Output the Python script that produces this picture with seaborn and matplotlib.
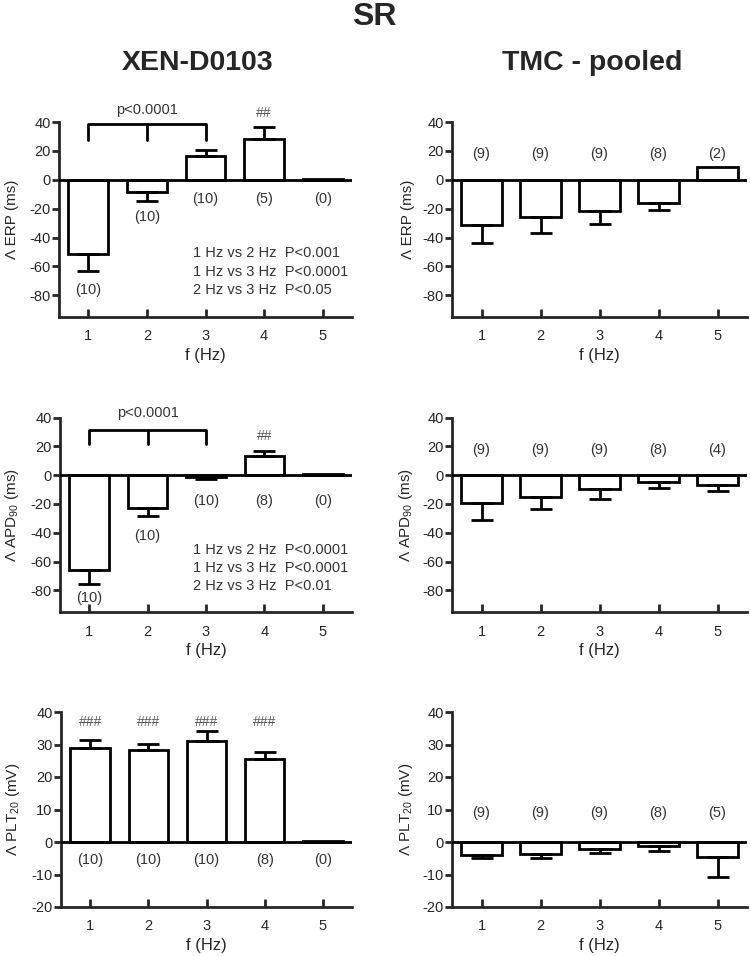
import matplotlib
matplotlib.use("Agg")
import matplotlib.pyplot as plt
import pandas as pd
import seaborn as sns

sns.set_style("ticks")
plt.rcParams["font.family"] = ["Liberation Sans", "DejaVu Sans"]
plt.rcParams["mathtext.fontset"] = "custom"
plt.rcParams["mathtext.rm"] = "Liberation Sans"
plt.rcParams["axes.unicode_minus"] = False

# data
freqs = ["1", "2", "3", "4", "5"]

xen_erp = [-51.5, -8.5, 16.5, 28.0, 0.5]
xen_erp_err = [11.7, 6.3, 4.2, 8.7, 0.0]
xen_erp_n = [10, 10, 10, 5, 0]

tmc_erp = [-31.0, -26.0, -21.5, -16.0, 9.0]
tmc_erp_err = [13.0, 11.0, 9.0, 5.0, 0.0]
tmc_erp_n = [9, 9, 9, 8, 2]

xen_apd = [-66.0, -23.0, -1.0, 13.5, 0.5]
xen_apd_err = [9.5, 5.2, 2.0, 3.0, 0.0]
xen_apd_n = [10, 10, 10, 8, 0]

tmc_apd = [-19.5, -15.0, -9.5, -5.0, -7.0]
tmc_apd_err = [11.5, 8.5, 7.0, 3.7, 4.0]
tmc_apd_n = [9, 9, 9, 8, 4]

xen_plt = [29.0, 28.3, 31.1, 25.5, 0.3]
xen_plt_err = [2.3, 1.9, 3.0, 2.1, 0.0]
xen_plt_n = [10, 10, 10, 8, 0]

tmc_plt = [-3.9, -3.8, -2.3, -1.3, -4.6]
tmc_plt_err = [1.0, 1.2, 1.0, 1.6, 6.2]
tmc_plt_n = [9, 9, 9, 8, 5]

erp_stats = ["1 Hz vs 2 Hz  P<0.001", "1 Hz vs 3 Hz  P<0.0001", "2 Hz vs 3 Hz  P<0.05"]
apd_stats = ["1 Hz vs 2 Hz  P<0.0001", "1 Hz vs 3 Hz  P<0.0001", "2 Hz vs 3 Hz  P<0.01"]

TXT = "#333333"
W, H = 750, 956

fig = plt.figure(figsize=(7.5, 9.56), dpi=100)


def make_ax(left, right, top, bottom):
    return fig.add_axes([left / W, 1 - bottom / H, (right - left) / W, (bottom - top) / H])


def bars(ax, vals, errs, ylim, yticks, ylabel, label_xy):
    df = pd.DataFrame({"f": freqs, "v": vals})
    sns.barplot(data=df, x="f", y="v", order=freqs, color="white", saturation=1,
                edgecolor="black", linewidth=2, width=0.68, errorbar=None, ax=ax)
    lo = [e if v < 0 else 0 for v, e in zip(vals, errs)]
    hi = [e if v >= 0 else 0 for v, e in zip(vals, errs)]
    keep = [i for i, e in enumerate(errs) if e > 0]
    ax.errorbar([i for i in keep], [vals[i] for i in keep],
                yerr=[[lo[i] for i in keep], [hi[i] for i in keep]],
                fmt="none", ecolor="black", elinewidth=2, capsize=8, capthick=2, zorder=1)
    ax.axhline(0, color="black", lw=2, zorder=3)
    ax.set_xlim(-0.5, 4.5)
    ax.set_ylim(*ylim)
    ax.set_yticks(yticks)
    sns.despine(ax=ax)
    for s in ["left", "bottom"]:
        ax.spines[s].set_linewidth(2)
    ax.tick_params(axis="y", direction="out", length=5, width=2, pad=1, labelsize=10.5)
    ax.tick_params(axis="x", direction="in", length=6, width=2, pad=9, labelsize=10.5)
    ax.set_xlabel("f (Hz)", fontsize=12, labelpad=3)
    ax.set_ylabel(ylabel, fontsize=11)
    ax.yaxis.set_label_coords(*label_xy)


def n_labels(ax, ns, ys):
    for i, (n, y) in enumerate(zip(ns, ys)):
        ax.text(i, y, f"({n})", ha="center", va="center", fontsize=10.5, color=TXT)


def bracket(ax, y_top, y_leg, y_txt):
    ax.plot([0, 0, 2, 2], [y_leg, y_top, y_top, y_leg], color="black", lw=2, clip_on=False)
    ax.plot([1, 1], [y_top, y_leg], color="black", lw=2, clip_on=False)
    ax.text(1, y_txt, "p<0.0001", ha="center", va="center", fontsize=10.5, color=TXT)


def stats(ax, lines, ys):
    for t, y in zip(lines, ys):
        ax.text(1.78, y, t, ha="left", va="center", fontsize=10.5, color=TXT)


ms_ticks = [-80, -60, -40, -20, 0, 20, 40]
mv_ticks = [-20, -10, 0, 10, 20, 30, 40]

# row 1: ERP
ax = make_ax(59, 352, 122, 317)
bars(ax, xen_erp, xen_erp_err, (-95, 40), ms_ticks, "Λ ERP (ms)", (-0.135, 0.5))
n_labels(ax, xen_erp_n, [-76, -26, -13, -13, -13])
bracket(ax, 38.6, 27.6, 48)
ax.text(3, 46, "##", ha="center", va="center", fontsize=10, color="#555555")
stats(ax, erp_stats, [-51, -64, -76.5])

ax = make_ax(452, 747, 122, 317)
bars(ax, tmc_erp, tmc_erp_err, (-95, 40), ms_ticks, "Λ ERP (ms)", (-0.125, 0.5))
n_labels(ax, tmc_erp_n, [17.7] * 5)

# row 2: APD90
ax = make_ax(60, 352, 417.5, 612)
bars(ax, xen_apd, xen_apd_err, (-95, 40), ms_ticks, r"Λ APD$_\mathregular{90}$ (ms)", (-0.135, 0.5))
n_labels(ax, xen_apd_n, [-85, -42, -18, -18, -18])
bracket(ax, 31.5, 21.8, 43)
ax.text(3, 27.4, "##", ha="center", va="center", fontsize=10, color="#555555")
stats(ax, apd_stats, [-52, -64.6, -77])

ax = make_ax(452, 747, 417.5, 612)
bars(ax, tmc_apd, tmc_apd_err, (-95, 40), ms_ticks, r"Λ APD$_\mathregular{90}$ (ms)", (-0.125, 0.5))
n_labels(ax, tmc_apd_n, [17.6] * 5)

# row 3: PLT20
ax = make_ax(61, 352, 712, 907)
bars(ax, xen_plt, xen_plt_err, (-20, 40), mv_ticks, r"Λ PLT$_\mathregular{20}$ (mV)", (-0.135, 0.5))
n_labels(ax, xen_plt_n, [-5.4] * 5)
for i in range(4):
    ax.text(i, 37, "###", ha="center", va="center", fontsize=10, color="#555555")

ax = make_ax(452, 747, 712, 907)
bars(ax, tmc_plt, tmc_plt_err, (-20, 40), mv_ticks, r"Λ PLT$_\mathregular{20}$ (mV)", (-0.125, 0.5))
n_labels(ax, tmc_plt_n, [8.9] * 5)

# titles
fig.text(374 / W, 1 - 17 / H, "SR", ha="center", va="center", fontsize=23, fontweight="bold")
fig.text(198 / W, 1 - 63 / H, "XEN-D0103", ha="center", va="center", fontsize=20.5, fontweight="bold")
fig.text(592 / W, 1 - 63 / H, "TMC - pooled", ha="center", va="center", fontsize=20.5, fontweight="bold")

fig.savefig("out.png", dpi=100, facecolor="white")
